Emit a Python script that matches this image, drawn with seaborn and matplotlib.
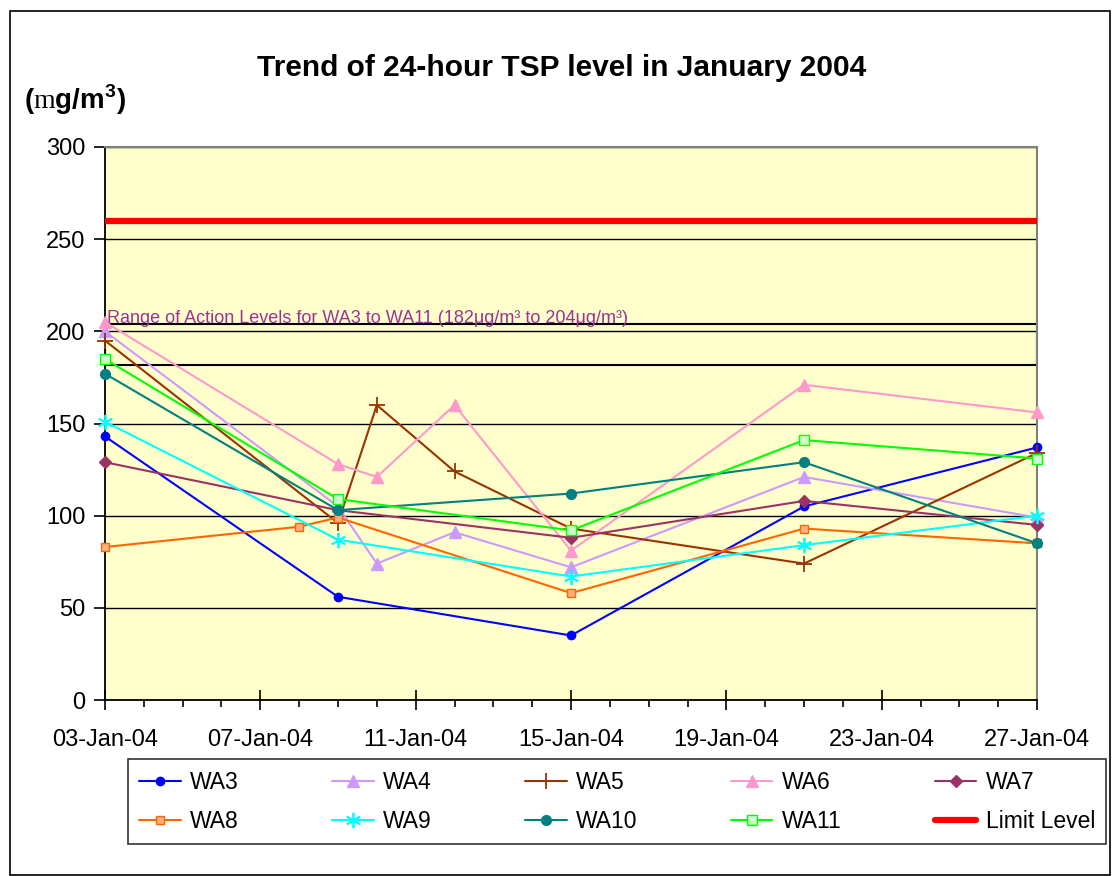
# Trend of 24-hour TSP level in January 2004 (WA3 - WA11)
import numpy as np
import pandas as pd
import seaborn as sns
import matplotlib.pyplot as plt
import matplotlib.dates as mdates
from matplotlib.patches import Rectangle

sns.set_style('white')
plt.rcParams['font.family'] = ['Liberation Sans', 'DejaVu Sans']
plt.rcParams['text.color'] = 'black'
plt.rcParams['xtick.color'] = 'black'
plt.rcParams['ytick.color'] = 'black'
plt.rcParams['mathtext.fontset'] = 'custom'
plt.rcParams['mathtext.rm'] = 'Liberation Serif'
plt.rcParams['mathtext.bf'] = 'Liberation Sans:bold'

dates = pd.to_datetime(['2004-01-03', '2004-01-08', '2004-01-09', '2004-01-10',
                        '2004-01-12', '2004-01-15', '2004-01-21', '2004-01-27'])
nan = np.nan
tsp = {
    'WA3':  [143, nan, 56,  nan, nan, 35,  105, 137],
    'WA4':  [200, nan, 105, 74,  91,  72,  121, 99],
    'WA5':  [195, nan, 96,  160, 124, 93,  74,  134],
    'WA6':  [205, nan, 128, 121, 160, 81,  171, 156],
    'WA7':  [129, nan, 103, nan, nan, 88,  108, 95],
    'WA8':  [83,  94,  99,  nan, nan, 58,  93,  85],
    'WA9':  [151, nan, 87,  nan, nan, 67,  84,  100],
    'WA10': [177, nan, 103, nan, nan, 112, 129, 85],
    'WA11': [185, nan, 109, nan, nan, 92,  141, 131],
}
df = pd.DataFrame(tsp, index=dates)
df.index.name = 'date'
long_df = df.reset_index().melt(id_vars='date', var_name='station', value_name='tsp').dropna()

limit = pd.DataFrame({'date': pd.to_datetime(['2004-01-03', '2004-01-27']), 'tsp': [260, 260]})
action_low, action_high = 182, 204

styles = {
    'WA3':  dict(color='#0000FF', marker='o', ms=6),
    'WA4':  dict(color='#CC99FF', marker='^', ms=8),
    'WA5':  dict(color='#993300', marker='+', ms=11, mew=1.3),
    'WA6':  dict(color='#FF99CC', marker='^', ms=8),
    'WA7':  dict(color='#993366', marker='D', ms=6),
    'WA8':  dict(color='#FF6600', marker='s', ms=6, mfc='#FFB080'),
    'WA9':  dict(color='#00FFFF', marker=(6, 2, 0), ms=11, mew=1.3),
    'WA10': dict(color='#008080', marker='o', ms=7),
    'WA11': dict(color='#00FF00', marker='s', ms=7, mfc='#CCFFCC'),
}

fig = plt.figure(figsize=(11.12, 8.76), dpi=100)
ax = fig.add_axes([0.0944, 0.2009, 0.8382, 0.6313])
ax.set_facecolor('#FFFFCC')

for name, st in styles.items():
    sub = long_df[long_df['station'] == name]
    sns.lineplot(data=sub, x='date', y='tsp', ax=ax, color=st['color'], lw=1.5,
                 marker=st['marker'], markersize=st['ms'],
                 markeredgecolor=st['color'], markerfacecolor=st.get('mfc', st['color']),
                 markeredgewidth=st.get('mew', 1.0), label=name, zorder=3, clip_on=False)

sns.lineplot(data=limit, x='date', y='tsp', ax=ax, color='#FF0000', lw=4.5,
             label='Limit Level', zorder=3)

# action level band
x0 = mdates.date2num(pd.Timestamp('2004-01-03'))
x1 = mdates.date2num(pd.Timestamp('2004-01-27'))
ax.add_patch(Rectangle((x0, action_low), x1 - x0, action_high - action_low,
                       fill=False, edgecolor='black', lw=1.5, zorder=2))
ax.text(x0 + 0.05, action_high - 1.5,
        'Range of Action Levels for WA3 to WA11 (182\u03bcg/m\u00b3 to 204\u03bcg/m\u00b3)',
        color='#993399', fontsize=13, va='bottom', ha='left', zorder=4)

ax.set_xlim(x0, x1)
ax.set_ylim(0, 300)
ax.set_yticks(range(0, 301, 50))
ax.xaxis.set_major_locator(mdates.DayLocator(bymonthday=[3, 7, 11, 15, 19, 23, 27]))
ax.xaxis.set_minor_locator(mdates.DayLocator())
ax.xaxis.set_major_formatter(mdates.DateFormatter('%d-%b-%y'))
ax.tick_params(axis='both', which='both', width=1.2, color='black', labelsize=17,
               bottom=True, left=True)
ax.tick_params(axis='x', which='major', direction='inout', length=14, pad=14)
ax.tick_params(axis='x', which='minor', direction='out', length=5)
ax.tick_params(axis='y', direction='out', length=8, pad=6)
ax.set_xlabel('')
ax.set_ylabel('')
ax.yaxis.grid(True, color='black', lw=1)
ax.set_axisbelow(True)
for side in ['left', 'bottom']:
    ax.spines[side].set_color('black')
    ax.spines[side].set_linewidth(1.3)
for side in ['top', 'right']:
    ax.spines[side].set_color('#808080')
    ax.spines[side].set_linewidth(1.5)

ax.get_legend().remove()
handles, labels = ax.get_legend_handles_labels()
order = [0, 5, 1, 6, 2, 7, 3, 8, 4, 9]
leg = fig.legend([handles[i] for i in order], [labels[i] for i in order],
                 ncol=5, loc='center', bbox_to_anchor=(0.115, 0.032, 0.88, 0.105),
                 mode='expand', fontsize=16.5, frameon=True, fancybox=False,
                 edgecolor='black', handlelength=1.8, handletextpad=0.4,
                 borderpad=0.5, labelspacing=0.7, borderaxespad=0)
leg.get_frame().set_linewidth(1.2)

fig.text(0.505, 0.922, 'Trend of 24-hour TSP level in January 2004',
         ha='center', va='center', fontsize=21.5, fontweight='bold')
fig.text(0.022, 0.886, r'($\mathrm{m}$g/m$^{\mathbf{3}}$)', ha='left', va='center',
         fontsize=20, fontweight='bold')

# outer chart border
fig.patches.append(Rectangle((10 / 1112, 0.001), 1100 / 1112, 1 - 12 / 876, fill=False,
                             edgecolor='black', lw=1.2, transform=fig.transFigure, figure=fig))

fig.savefig('out.png', dpi=100)
